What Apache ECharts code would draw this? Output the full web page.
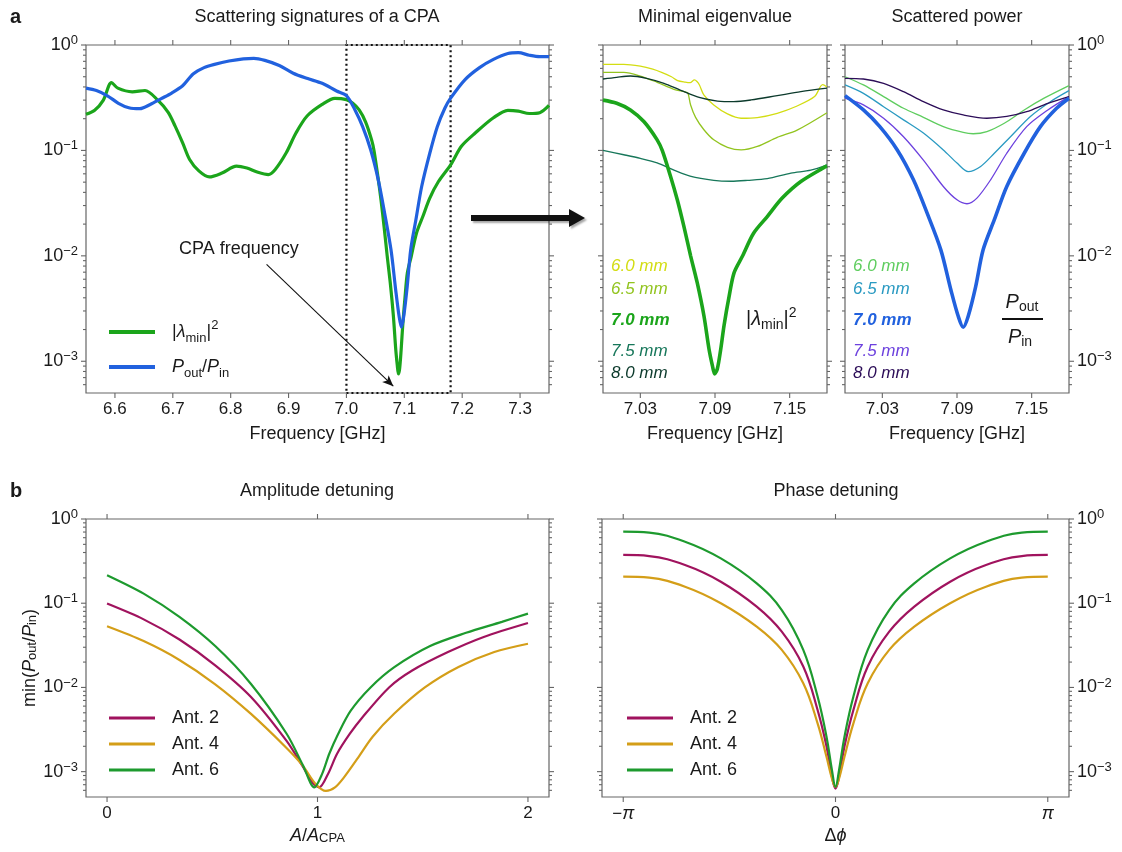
<!DOCTYPE html>
<html><head><meta charset="utf-8">
<script src="https://cdn.jsdelivr.net/npm/echarts@6/dist/echarts.min.js"></script>
<style>html,body{margin:0;padding:0;background:#fff}#c{width:1122px;height:852px}</style>
</head><body><div id="c"></div>
<script>
// ---------------- DATA ----------------
// Panel a (left): full-range spectra
const freqGreen = [6.55,6.565,6.58,6.594,6.605,6.63,6.652,6.674,6.692,6.704,6.717,6.729,6.745,6.763,6.785,6.81,6.828,6.847,6.865,6.877,6.896,6.913,6.932,6.958,6.98,7.0,7.011,7.022,7.033,7.0435,7.0476,7.0543,7.0597,7.065,7.0704,7.0758,7.0811,7.0852,7.0879,7.0897,7.0919,7.0946,7.0973,7.1013,7.1053,7.112,7.121,7.132,7.144,7.159,7.18,7.199,7.223,7.254,7.279,7.297,7.316,7.334,7.35];
const lambdaMin = [0.22,0.24,0.30,0.44,0.39,0.36,0.37,0.30,0.23,0.17,0.118,0.082,0.064,0.056,0.061,0.071,0.068,0.062,0.059,0.066,0.095,0.147,0.212,0.273,0.312,0.303,0.28,0.242,0.187,0.126,0.1,0.0566,0.034,0.019,0.01,0.0055,0.0027,0.0013,0.00091,0.00076,0.00085,0.0013,0.0022,0.0041,0.0069,0.0099,0.0164,0.0236,0.0353,0.0507,0.073,0.11,0.147,0.204,0.24,0.236,0.224,0.228,0.267];
const freqBlue = [6.55,6.568,6.587,6.606,6.624,6.643,6.661,6.68,6.698,6.717,6.735,6.754,6.772,6.797,6.822,6.84,6.859,6.884,6.908,6.933,6.958,6.983,7.0,7.0148,7.028,7.042,7.055,7.066,7.077,7.085,7.091,7.095,7.099,7.105,7.111,7.12,7.13,7.144,7.157,7.17,7.18,7.205,7.23,7.254,7.279,7.297,7.316,7.334,7.35];
const powerRatio = [0.39,0.37,0.33,0.28,0.254,0.249,0.273,0.31,0.35,0.41,0.53,0.61,0.655,0.705,0.74,0.747,0.715,0.64,0.54,0.48,0.433,0.366,0.331,0.242,0.168,0.101,0.0526,0.0254,0.0114,0.0048,0.00267,0.0021,0.00267,0.0051,0.0114,0.022,0.0455,0.094,0.168,0.251,0.313,0.47,0.61,0.73,0.83,0.845,0.80,0.776,0.776];

// Minimal eigenvalue panel (zoom 7.00-7.18 GHz), one curve per thickness
const thicknessLabels = ['6.0 mm','6.5 mm','7.0 mm','7.5 mm','8.0 mm'];
const fEig60 = [7.0,7.0167,7.03,7.04,7.0476,7.055,7.06,7.066,7.070,7.0735,7.0755,7.0775,7.081,7.089,7.1,7.111,7.124,7.14,7.156,7.17,7.1765,7.18];
const eig60  = [0.656,0.656,0.63,0.59,0.547,0.5,0.46,0.445,0.44,0.466,0.45,0.418,0.336,0.27,0.222,0.202,0.205,0.225,0.264,0.324,0.42,0.40];
const fEig65 = [7.0,7.0167,7.03,7.0435,7.057,7.066,7.0682,7.0704,7.0744,7.0811,7.089,7.1,7.111,7.124,7.14,7.156,7.18];
const eig65  = [0.55,0.55,0.508,0.443,0.38,0.359,0.35,0.27,0.206,0.157,0.126,0.107,0.101,0.109,0.133,0.156,0.228];
const fEig70 = [7.0,7.011,7.022,7.033,7.0435,7.0476,7.0543,7.0597,7.065,7.0704,7.0758,7.0811,7.0852,7.0879,7.0897,7.0919,7.0946,7.0973,7.1013,7.1053,7.112,7.121,7.132,7.144,7.159,7.18];
const eig70  = [0.30,0.28,0.242,0.187,0.126,0.1,0.0566,0.034,0.019,0.01,0.0055,0.0027,0.0013,0.00091,0.00076,0.00085,0.0013,0.0022,0.0041,0.0069,0.0099,0.0164,0.0236,0.0353,0.0507,0.0713];
const fEig75 = [7.0,7.0167,7.03,7.0435,7.057,7.07,7.089,7.103,7.116,7.132,7.151,7.167,7.18];
const eig75  = [0.1,0.091,0.084,0.076,0.065,0.057,0.052,0.051,0.052,0.054,0.061,0.065,0.073];
const fEig80 = [7.0,7.011,7.022,7.035,7.049,7.062,7.078,7.092,7.105,7.119,7.14,7.159,7.18];
const eig80  = [0.476,0.494,0.508,0.483,0.433,0.374,0.316,0.294,0.29,0.301,0.331,0.361,0.389];

// Scattered power panel (zoom 7.00-7.18 GHz)
const fPow60 = [7.0,7.0148,7.031,7.047,7.063,7.079,7.095,7.103,7.114,7.128,7.144,7.16,7.18];
const pow60  = [0.5,0.418,0.324,0.251,0.206,0.168,0.148,0.144,0.151,0.181,0.242,0.313,0.412];
const fPow65 = [7.0,7.0148,7.031,7.047,7.063,7.079,7.09,7.099,7.109,7.12,7.133,7.149,7.165,7.18];
const pow65  = [0.418,0.348,0.26,0.195,0.146,0.101,0.076,0.063,0.0705,0.094,0.135,0.21,0.29,0.369];
const fPow70 = [7.0,7.0148,7.028,7.042,7.055,7.066,7.077,7.085,7.091,7.095,7.099,7.105,7.111,7.12,7.13,7.144,7.157,7.17,7.18];
const pow70  = [0.331,0.242,0.168,0.101,0.0526,0.0254,0.0114,0.0048,0.00267,0.0021,0.00267,0.0051,0.0114,0.022,0.0455,0.094,0.168,0.251,0.313];
const fPow75 = [7.0,7.0148,7.031,7.047,7.063,7.079,7.09,7.098,7.106,7.117,7.13,7.146,7.163,7.18];
const pow75  = [0.313,0.27,0.202,0.135,0.081,0.0455,0.034,0.0312,0.0353,0.0526,0.094,0.168,0.242,0.324];
const fPow80 = [7.0,7.0148,7.031,7.047,7.063,7.079,7.095,7.114,7.13,7.146,7.163,7.18];
const pow80  = [0.483,0.476,0.433,0.361,0.29,0.242,0.217,0.202,0.21,0.233,0.28,0.324];

// Panel b: amplitude detuning
const antNames = ['Ant. 2','Ant. 4','Ant. 6'];
const ampX2 = [0,0.174,0.344,0.514,0.684,0.854,0.93,0.98,1.008,1.05,1.093,1.153,1.212,1.34,1.45,1.62,1.79,2.0];
const amp2  = [0.099,0.0643,0.0371,0.0183,0.0077,0.0023,0.00115,0.00072,0.00065,0.00094,0.00163,0.0028,0.00437,0.01,0.0159,0.0263,0.0398,0.0583];
const ampX4 = [0,0.174,0.344,0.514,0.684,0.854,0.93,0.99,1.04,1.083,1.125,1.194,1.262,1.365,1.51,1.67,1.84,2.0];
const amp4  = [0.0532,0.0355,0.0212,0.0109,0.00485,0.0019,0.00118,0.00072,0.00059,0.00065,0.00085,0.00148,0.0026,0.0049,0.01,0.0175,0.0263,0.033];
const ampX6 = [0,0.174,0.344,0.514,0.684,0.854,0.93,0.985,1.022,1.056,1.098,1.158,1.252,1.365,1.535,1.706,1.876,2.0];
const amp6  = [0.215,0.13,0.0688,0.031,0.011,0.0028,0.0012,0.00065,0.00094,0.00163,0.0028,0.0053,0.01,0.0174,0.031,0.0445,0.06,0.0753];

// Panel b: phase detuning
const phaseX = [-Math.PI,-2.757,-2.227,-1.697,-1.166,-0.795,-0.477,-0.265,-0.133,-0.053,0,0.053,0.133,0.265,0.477,0.795,1.166,1.697,2.227,2.757,Math.PI];
const phase2 = [0.374,0.363,0.284,0.18,0.091,0.0459,0.0177,0.0054,0.002,0.00087,0.00063,0.00087,0.002,0.0054,0.0177,0.0459,0.091,0.18,0.284,0.363,0.374];
const phase4 = [0.207,0.201,0.157,0.1,0.0527,0.0279,0.0112,0.00375,0.0015,0.00083,0.00066,0.00083,0.0015,0.00375,0.0112,0.0279,0.0527,0.1,0.157,0.201,0.207];
const phase6 = [0.707,0.689,0.538,0.341,0.172,0.083,0.0279,0.0078,0.0026,0.00105,0.00066,0.00105,0.0026,0.0078,0.0279,0.083,0.172,0.341,0.538,0.689,0.707];

// Tick values
const freqTicksMain = [6.6,6.7,6.8,6.9,7.0,7.1,7.2,7.3];
const freqTicksZoom = [7.03,7.09,7.15];
const ampTicks = [0,1,2];
const phaseTicks = [-Math.PI,0,Math.PI];
const logMajor = [1e-3,1e-2,1e-1,1];
const logMinor = [6e-4,7e-4,8e-4,9e-4,2e-3,3e-3,4e-3,5e-3,6e-3,7e-3,8e-3,9e-3,2e-2,3e-2,4e-2,5e-2,6e-2,7e-2,8e-2,9e-2,0.2,0.3,0.4,0.5,0.6,0.7,0.8,0.9];

// ---------------- STYLE ----------------
const FONT = 'Liberation Sans, Arial, sans-serif';
const TXT = '#1a1a1a';
const AX = '#666';
const LOG_MIN = 5e-4, LOG_MAX = 1;
const GREEN = '#1ba51b', BLUE = '#2161de';
const eigColors = ['#d3dd12','#92c41f','#1ba51b','#17775a','#0c3a2c'];
const powColors = ['#5fcd5f','#2a9ac2','#2161de','#6c41de','#2c0d58'];
const antColors = ['#a0135e','#d49e18','#1d9a2e'];

const rich = {
  it: {fontStyle:'italic', fontSize:18, fontFamily:FONT, color:TXT},
  sub: {fontSize:13, fontFamily:FONT, color:TXT, verticalAlign:'bottom', lineHeight:14},
  sup: {fontSize:13, fontFamily:FONT, color:TXT, verticalAlign:'top', lineHeight:13},
  gap: {width:12}
};
const tickRich = {
  sup: {fontSize:13, fontFamily:FONT, color:TXT, verticalAlign:'top', lineHeight:11}
};

const grids = [
  {left:86, top:45, width:463, height:348},
  {left:603, top:45, width:224, height:348},
  {left:845, top:45, width:224, height:348},
  {left:86, top:519, width:463, height:278},
  {left:602, top:519, width:467, height:278}
].map(g => Object.assign({show:true, borderColor:AX, borderWidth:1.2, backgroundColor:'transparent'}, g));

function pairs(xs, ys){ return xs.map((x,i)=>[x, ys[i]]); }

function logLabel(v){
  const l = Math.log10(v), e = Math.round(l);
  if (Math.abs(l-e) > 1e-6) return '';
  return '10{sup|' + (e === 0 ? '0' : '\u2212' + (-e)) + '}';
}
function onList(list, tol){ return v => list.some(t => Math.abs(t - v) < tol); }

function xAxis(gi, min, max, iv, fmt, name, nameRich){
  return {type:'value', gridIndex:gi, min:min, max:max, minInterval:iv, maxInterval:iv, splitNumber:Math.round((max-min)/iv),
    axisLine:{show:false}, axisTick:{show:false}, splitLine:{show:false},
    axisLabel:{formatter:fmt, margin:8, fontSize:17, color:TXT, fontFamily:FONT, rich:rich, hideOverlap:false},
    name:name, nameLocation:'middle', nameGap:32,
    nameTextStyle:{fontSize:18, color:TXT, fontFamily:FONT, rich:nameRich||rich}};
}
function yAxis(gi, pos, showLabel, name){
  return {type:'log', logBase:10, gridIndex:gi, min:LOG_MIN, max:LOG_MAX, position:pos,
    axisLine:{show:false}, axisTick:{show:false}, splitLine:{show:false}, minorTick:{show:false},
    axisLabel:{show:showLabel, formatter:logLabel, margin:8, fontSize:18, color:TXT, fontFamily:FONT, rich:tickRich, lineHeight:22, hideOverlap:false},
    name:name||'', nameLocation:'middle', nameGap:46,
    nameTextStyle:{fontSize:18, color:TXT, fontFamily:FONT, rich:rich}};
}

function line(name, gi, xs, ys, color, width, z, smooth){
  return {type:'line', name:name, xAxisIndex:gi, yAxisIndex:gi, data:pairs(xs, ys),
    showSymbol:false, symbol:'none', smooth:smooth==null?0.3:smooth, lineStyle:{color:color, width:width},
    itemStyle:{color:color}, z:z||2, animation:false, silent:true};
}

function ticks(gi, xMin, xMax, xMajor){
  return {type:'custom', xAxisIndex:gi, yAxisIndex:gi, silent:true, clip:false, z:6, animation:false,
    data:[[xMin, LOG_MIN]],
    renderItem:function(params, api){
      const kids = [];
      const st = {stroke:AX, lineWidth:1.1};
      const bl = api.coord([xMin, LOG_MIN]), tr = api.coord([xMax, LOG_MAX]);
      const left = bl[0], bottom = bl[1], right = tr[0], top = tr[1];
      function seg(x1,y1,x2,y2){ kids.push({type:'line', shape:{x1:x1,y1:y1,x2:x2,y2:y2}, style:st}); }
      xMajor.forEach(v => { const x = api.coord([v, LOG_MIN])[0]; seg(x,bottom,x,bottom+5); seg(x,top,x,top-5); });
      logMajor.forEach(v => { const y = api.coord([xMin, v])[1]; seg(left-5,y,left,y); seg(right,y,right+5,y); });
      logMinor.forEach(v => { const y = api.coord([xMin, v])[1]; seg(left-3,y,left,y); seg(right,y,right+3,y); });
      return {type:'group', children:kids};
    }};
}

const NAME_LAM = '|\u03bbmin|\u00b2', NAME_POW = 'Pout/Pin';

// ---------------- SERIES ----------------
const series = [];
const sGreen = line(NAME_LAM, 0, freqGreen, lambdaMin, GREEN, 3.2, 3);
sGreen.markArea = {silent:true, itemStyle:{color:'rgba(0,0,0,0)', borderColor:'#111', borderWidth:2.2, borderType:[2,3]},
  data:[[{coord:[7.0, LOG_MIN]}, {coord:[7.18, LOG_MAX]}]]};
sGreen.markLine = {silent:true, animation:false, symbol:['none','arrow'], symbolSize:[7,11],
  lineStyle:{color:'#111', width:1.1, type:'solid'}, label:{show:false}, emphasis:{disabled:true},
  data:[[{coord:[6.862, 0.0083]}, {coord:[7.081, 0.00058]}]]};
series.push(sGreen);
series.push(line(NAME_POW, 0, freqBlue, powerRatio, BLUE, 3.2, 3));

const eigF = [fEig60,fEig65,fEig70,fEig75,fEig80], eigV = [eig60,eig65,eig70,eig75,eig80];
const powF = [fPow60,fPow65,fPow70,fPow75,fPow80], powV = [pow60,pow65,pow70,pow75,pow80];
for (let i=0;i<5;i++){
  series.push(line('eig '+thicknessLabels[i], 1, eigF[i], eigV[i], eigColors[i], i===2?3.6:1.3, i===2?4:2));
  series.push(line('pow '+thicknessLabels[i], 2, powF[i], powV[i], powColors[i], i===2?3.6:1.3, i===2?4:2));
}
const ampXs = [ampX2,ampX4,ampX6], ampVs = [amp2,amp4,amp6], phVs = [phase2,phase4,phase6];
for (let i=0;i<3;i++){
  series.push(line(antNames[i], 3, ampXs[i], ampVs[i], antColors[i], 2.2, 2, 0.3));
  series.push(line(antNames[i], 4, phaseX, phVs[i], antColors[i], 2.2, 2, 0.4));
}
series.push(ticks(0, 6.55, 7.35, freqTicksMain));
series.push(ticks(1, 7.0, 7.18, freqTicksZoom));
series.push(ticks(2, 7.0, 7.18, freqTicksZoom));
series.push(ticks(3, -0.1, 2.1, ampTicks));
series.push(ticks(4, -1.1*Math.PI, 1.1*Math.PI, phaseTicks));

// ---------------- AXES ----------------
const fmtMain = v => onList(freqTicksMain, 1e-6)(v) ? v.toFixed(1) : '';
const fmtZoom = v => onList(freqTicksZoom, 1e-6)(v) ? v.toFixed(2) : '';
const fmtAmp = v => onList(ampTicks, 1e-6)(v) ? String(Math.round(v)) : '';
const fmtPhase = v => {
  if (!onList(phaseTicks, 0.01)(v)) return '';
  if (Math.abs(v) < 0.01) return '0';
  return v < 0 ? '\u2212{it|\u03c0}' : '{it|\u03c0}';
};
const xAxes = [
  xAxis(0, 6.55, 7.35, 0.1, fmtMain, 'Frequency [GHz]'),
  xAxis(1, 7.0, 7.18, 0.01, fmtZoom, 'Frequency [GHz]'),
  xAxis(2, 7.0, 7.18, 0.01, fmtZoom, 'Frequency [GHz]'),
  xAxis(3, -0.1, 2.1, 1, fmtAmp, '{it|A}/{it|A}{sub|CPA}'),
  xAxis(4, -1.1*Math.PI, 1.1*Math.PI, Math.PI, fmtPhase, '\u0394{it|\u03d5}')
];
xAxes[3].nameGap = 30; xAxes[4].nameGap = 30;
xAxes[4].axisLabel.rich = {it:{fontStyle:'italic', fontSize:18, fontFamily:FONT, color:TXT}};
const yAxes = [
  yAxis(0, 'left', true),
  yAxis(1, 'left', false),
  yAxis(2, 'right', true),
  yAxis(3, 'left', true, 'min({it|P}{sub|out}/{it|P}{sub|in})'),
  yAxis(4, 'right', true)
];

// ---------------- LEGENDS ----------------
const legRich = rich;
const legends = [
  {orient:'vertical', left:104, top:314, itemWidth:46, itemHeight:4, itemGap:9, icon:'rect', selectedMode:false,
   data:[NAME_LAM, NAME_POW],
   formatter: n => n === NAME_LAM ? '{gap| }|{it|\u03bb}{sub|min}|{sup|2}' : '{gap| }{it|P}{sub|out}/{it|P}{sub|in}',
   textStyle:{fontSize:18, color:TXT, fontFamily:FONT, lineHeight:26, rich:legRich}},
  {orient:'vertical', left:104, top:702, itemWidth:46, itemHeight:3, itemGap:4, icon:'rect', selectedMode:false,
   data:antNames, formatter: n => '{gap| }' + n,
   textStyle:{fontSize:18, color:TXT, fontFamily:FONT, lineHeight:22, rich:legRich}},
  {orient:'vertical', left:622, top:702, itemWidth:46, itemHeight:3, itemGap:4, icon:'rect', selectedMode:false,
   data:antNames, formatter: n => '{gap| }' + n,
   textStyle:{fontSize:18, color:TXT, fontFamily:FONT, lineHeight:22, rich:legRich}}
];

// ---------------- TEXT / ANNOTATIONS ----------------
function txt(x, y, text, opts){
  return {type:'text', x:x, y:y, z:100, silent:true,
    style:Object.assign({text:text, fill:TXT, fontSize:18, fontFamily:FONT, align:'center', verticalAlign:'middle'}, opts||{})};
}
const bigRich = {
  it: {fontStyle:'italic', fontSize:20, fontFamily:FONT, color:TXT},
  sub: {fontSize:14, fontFamily:FONT, color:TXT, verticalAlign:'bottom', lineHeight:15},
  sup: {fontSize:14, fontFamily:FONT, color:TXT, verticalAlign:'top', lineHeight:13}
};
const graphics = [
  txt(10, 17, 'a', {align:'left', fontWeight:'bold', fontSize:20}),
  txt(10, 491, 'b', {align:'left', fontWeight:'bold', fontSize:20}),
  txt(317, 17, 'Scattering signatures of a CPA'),
  txt(715, 17, 'Minimal eigenvalue'),
  txt(957, 17, 'Scattered power'),
  txt(317, 491, 'Amplitude detuning'),
  txt(836, 491, 'Phase detuning'),
  txt(179, 249, 'CPA frequency', {align:'left'}),
  txt(746, 319, '|{it|\u03bb}{sub|min}|{sup|2}', {align:'left', rich:bigRich, fontSize:20, lineHeight:26}),
  txt(1022, 302, '{it|P}{sub|out}', {rich:bigRich, fontSize:20, lineHeight:24}),
  {type:'line', z:100, silent:true, shape:{x1:1002, y1:319, x2:1043, y2:319}, style:{stroke:'#111', lineWidth:2}},
  txt(1020, 337, '{it|P}{sub|in}', {rich:bigRich, fontSize:20, lineHeight:24}),
  // big arrow between panels
  {type:'polygon', z:100, silent:true,
   shape:{points:[[471,215],[569,215],[569,209],[585,218],[569,227],[569,221],[471,221]]},
   style:{fill:'#111', shadowBlur:2, shadowOffsetX:2, shadowOffsetY:2, shadowColor:'rgba(0,0,0,0.35)'}}
];
const labelY = [266, 289, 320, 351, 373];
for (let i=0;i<5;i++){
  graphics.push(txt(611, labelY[i], thicknessLabels[i], {align:'left', fontStyle:'italic', fontWeight:i===2?'bold':'normal', fill:eigColors[i], fontSize:17}));
  graphics.push(txt(853, labelY[i], thicknessLabels[i], {align:'left', fontStyle:'italic', fontWeight:i===2?'bold':'normal', fill:powColors[i], fontSize:17}));
}

const chart = echarts.init(document.getElementById('c'), null, {renderer:'canvas'});
chart.setOption({
  animation:false,
  backgroundColor:'#fff',
  textStyle:{fontFamily:FONT},
  grid:grids,
  xAxis:xAxes,
  yAxis:yAxes,
  legend:legends,
  series:series,
  graphic:graphics
});
</script></body></html>
